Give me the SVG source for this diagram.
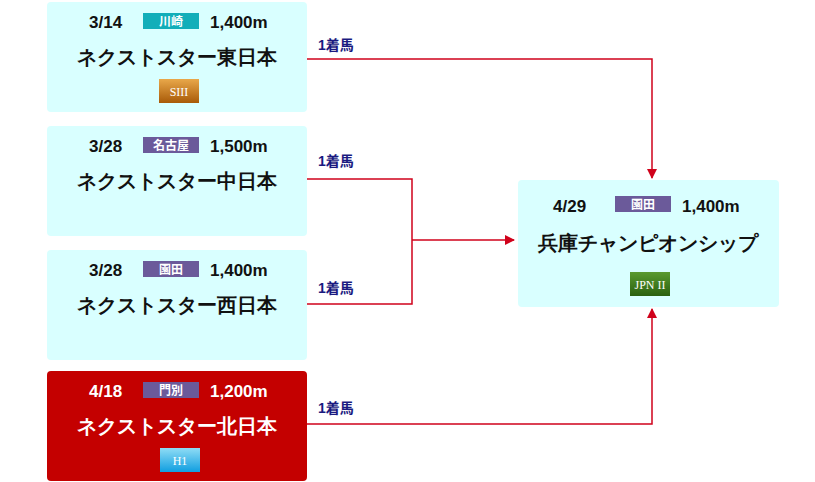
<svg xmlns="http://www.w3.org/2000/svg" width="815" height="482" viewBox="0 0 815 482">
<defs>
<style>
.box{fill:#d9ffff}
.t{font-family:"Liberation Sans",Arial,sans-serif;font-weight:bold;fill:#111}
.d{font-size:17px}
.n{font-size:20px}
.v{font-size:12px;fill:#fff;font-family:"Noto Sans CJK JP",sans-serif;font-weight:bold}
.w{fill:#fff}
.lbl{font-family:"Liberation Sans","Noto Sans CJK JP",sans-serif;font-weight:bold;font-size:14px;fill:#1a1a80}
.ln{stroke:#d0021b;stroke-width:1.5;fill:none}
.g{font-family:"Liberation Serif",serif;font-size:12px;fill:#fff}
</style>
<marker id="ah" markerWidth="10" markerHeight="10" refX="9" refY="5" orient="auto" markerUnits="userSpaceOnUse"><path d="M0,0L10,5L0,10z" fill="#d0021b"/></marker>
<linearGradient id="gs" x1="0" y1="0" x2="0" y2="1"><stop offset="0" stop-color="#e9a84a"/><stop offset="1" stop-color="#a85a08"/></linearGradient>
<linearGradient id="gh" x1="0" y1="0" x2="0" y2="1"><stop offset="0" stop-color="#8fdcf5"/><stop offset="1" stop-color="#109ee0"/></linearGradient>
<linearGradient id="gj" x1="0" y1="0" x2="0" y2="1"><stop offset="0" stop-color="#5a9a30"/><stop offset="1" stop-color="#2a6010"/></linearGradient>
</defs>
<g id="connectors">
<path class="ln" d="M307,59H652V178" marker-end="url(#ah)"/>
<path class="ln" d="M307,179H412V304H307"/>
<path class="ln" d="M412,240H514" marker-end="url(#ah)"/>
<path class="ln" d="M307,424H652V309" marker-end="url(#ah)"/>
<text class="lbl" x="318" y="50">1着馬</text>
<text class="lbl" x="318" y="166">1着馬</text>
<text class="lbl" x="318" y="293">1着馬</text>
<text class="lbl" x="318" y="413">1着馬</text>
</g>
<g id="n1">
<rect class="box" x="47" y="2" width="260" height="110" rx="4"/>
<text class="t d" x="89" y="28">3/14</text>
<rect x="143" y="13" width="56" height="16" fill="#12aeb9"/>
<text class="v" x="171" y="26" text-anchor="middle">川崎</text>
<text class="t d" x="210" y="28">1,400m</text>
<text class="t n" x="177" y="64" text-anchor="middle">ネクストスター東日本</text>
<rect x="159" y="79" width="40" height="24" fill="url(#gs)"/>
<text class="g" x="179" y="96" text-anchor="middle">SIII</text>
</g>
<g id="n2">
<rect class="box" x="47" y="126" width="260" height="110" rx="4"/>
<text class="t d" x="89" y="152">3/28</text>
<rect x="143" y="137" width="56" height="16" fill="#6b5a9a"/>
<text class="v" x="171" y="150" text-anchor="middle">名古屋</text>
<text class="t d" x="210" y="152">1,500m</text>
<text class="t n" x="177" y="188" text-anchor="middle">ネクストスター中日本</text>
</g>
<g id="n3">
<rect class="box" x="47" y="250" width="260" height="110" rx="4"/>
<text class="t d" x="89" y="276">3/28</text>
<rect x="143" y="261" width="56" height="16" fill="#6b5a9a"/>
<text class="v" x="171" y="274" text-anchor="middle">園田</text>
<text class="t d" x="210" y="276">1,400m</text>
<text class="t n" x="177" y="312" text-anchor="middle">ネクストスター西日本</text>
</g>
<g id="n4">
<rect x="47" y="371" width="260" height="110" rx="4" fill="#c40000"/>
<text class="t d w" x="89" y="397">4/18</text>
<rect x="143" y="382" width="56" height="16" fill="#6b5a9a"/>
<text class="v" x="171" y="395" text-anchor="middle">門別</text>
<text class="t d w" x="210" y="397">1,200m</text>
<text class="t n w" x="177" y="433" text-anchor="middle">ネクストスター北日本</text>
<rect x="160" y="448" width="40" height="24" fill="url(#gh)"/>
<text class="g" x="180" y="465" text-anchor="middle">H1</text>
</g>
<g id="n5">
<rect class="box" x="518" y="180" width="261" height="127" rx="4"/>
<text class="t d" x="553" y="212">4/29</text>
<rect x="615" y="196" width="56" height="16" fill="#6b5a9a"/>
<text class="v" x="643" y="209" text-anchor="middle">園田</text>
<text class="t d" x="682" y="212">1,400m</text>
<text class="t n" x="648" y="250" text-anchor="middle">兵庫チャンピオンシップ</text>
<rect x="630" y="272" width="40" height="24" fill="url(#gj)"/>
<text class="g" x="650" y="289" text-anchor="middle" font-size="10">JPN II</text>
</g>
</svg>
